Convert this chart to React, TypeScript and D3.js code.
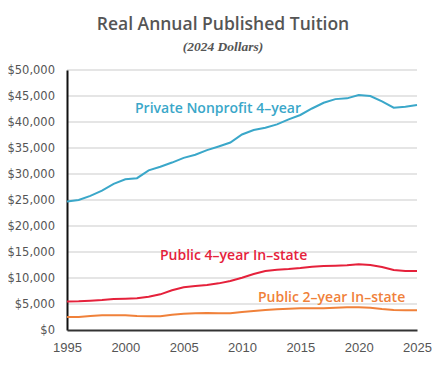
import { useEffect, useRef } from "react";
import * as d3 from "d3";

const years = d3.range(1995, 2026);

const privateNonprofit = [
  24700, 25000, 25800, 26800, 28100, 29000, 29200, 30700, 31400, 32200,
  33100, 33700, 34600, 35300, 36050, 37600, 38450, 38900, 39550, 40500,
  41350, 42600, 43700, 44400, 44550, 45200, 45000, 43950, 42750, 42950,
  43250,
];
const public4 = [
  5500, 5510, 5640, 5770, 5960, 6030, 6090, 6410, 6860, 7630,
  8200, 8460, 8650, 8970, 9420, 10060, 10770, 11350, 11600, 11730,
  11920, 12180, 12310, 12370, 12440, 12630, 12500, 12120, 11540, 11350,
  11350,
];
const public2 = [
  2500, 2500, 2690, 2820, 2820, 2820, 2690, 2630, 2630, 2950,
  3140, 3200, 3270, 3200, 3200, 3460, 3650, 3850, 3970, 4100,
  4170, 4170, 4170, 4300, 4360, 4360, 4300, 4040, 3850, 3790,
  3790,
];

const series = [
  { name: "Private Nonprofit 4-year", values: privateNonprofit, color: "#3aa7c9", lx: 135, ly: 113 },
  { name: "Public 4-year In-state", values: public4, color: "#e5213b", lx: 160, ly: 260 },
  { name: "Public 2-year In-state", values: public2, color: "#f0813a", lx: 258, ly: 302 },
];

const yTicks = d3.range(0, 50001, 5000);
const xTicks = [1995, 2000, 2005, 2010, 2015, 2020, 2025];

const W = 447;
const H = 368;
const margin = { top: 70, right: 30, bottom: 38, left: 67 };

const App = () => {
  const ref = useRef<SVGSVGElement>(null);

  useEffect(() => {
    const svg = d3.select(ref.current);
    svg.selectAll("*").remove();

    const x = d3.scaleLinear().domain([1995, 2025]).range([margin.left, W - margin.right]);
    const y = d3.scaleLinear().domain([0, 50000]).range([H - margin.bottom, margin.top]);

    // frame
    svg.append("rect")
      .attr("x", 1.5).attr("y", 1.5)
      .attr("width", 441).attr("height", H + 5)
      .attr("fill", "white")
      .attr("stroke", "#d6d6d6")
      .attr("stroke-width", 1.5);

    svg.append("text")
      .attr("x", 223).attr("y", 30)
      .attr("text-anchor", "middle")
      .style("font-family", "'Open Sans', sans-serif")
      .style("font-size", "17.5px")
      .style("font-weight", 600)
      .style("fill", "#555")
      .text("Real Annual Published Tuition");

    svg.append("text")
      .attr("x", 223).attr("y", 51)
      .attr("text-anchor", "middle")
      .style("font-family", "'Liberation Serif', serif")
      .style("font-size", "13.5px")
      .style("font-style", "italic")
      .style("font-weight", "bold")
      .style("fill", "#555")
      .text("(2024 Dollars)");

    // gridlines
    svg.append("g")
      .selectAll("line")
      .data(yTicks.filter((d) => d > 0))
      .enter()
      .append("line")
      .attr("x1", x(1995)).attr("x2", x(2025))
      .attr("y1", (d) => y(d)).attr("y2", (d) => y(d))
      .attr("stroke", "#dcdcdc")
      .attr("stroke-width", 1.5);

    // y axis
    const yAxis = svg.append("g")
      .attr("transform", `translate(${x(1995)},0)`)
      .call(d3.axisLeft(y).tickValues(yTicks).tickSize(0).tickPadding(12).tickFormat((d) => "$" + d3.format(",")(d as number)));
    yAxis.select(".domain").attr("stroke", "#111").attr("stroke-width", 2);
    yAxis.selectAll("text")
      .style("font-family", "'DejaVu Sans', sans-serif")
      .style("font-size", "11.5px")
      .style("fill", "#555");

    // x axis
    const xAxis = svg.append("g")
      .attr("transform", `translate(0,${y(0)})`)
      .call(d3.axisBottom(x).tickValues(xTicks).tickSize(0).tickPadding(13).tickFormat(d3.format("d")));
    xAxis.select(".domain").attr("stroke", "#333").attr("stroke-width", 2);
    xAxis.selectAll("text")
      .style("font-family", "'Liberation Sans', sans-serif")
      .style("font-size", "13px")
      .style("fill", "#555");

    const line = d3.line<number>()
      .x((_, i) => x(years[i]))
      .y((d) => y(d));

    series.forEach((s) => {
      svg.append("path")
        .datum(s.values)
        .attr("d", line)
        .attr("fill", "none")
        .attr("stroke", s.color)
        .attr("stroke-width", 2);

      svg.append("text")
        .attr("x", s.lx).attr("y", s.ly)
        .style("font-family", "'Open Sans', sans-serif")
        .style("font-size", "14px")
        .style("font-weight", 600)
        .style("fill", s.color)
        .text(s.name.replace(/-/g, "\u2013"));
    });
  }, []);

  return <svg ref={ref} width={W} height={H} style={{ display: "block", margin: "-8px" }} />;
};

export default App;
